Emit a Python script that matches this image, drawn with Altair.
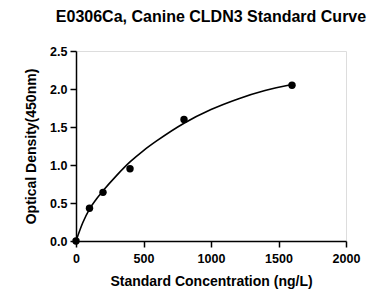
import altair as alt
import pandas as pd

# Measured standards
conc = [0, 100, 200, 400, 800, 1600]
od = [0.0, 0.43, 0.64, 0.95, 1.60, 2.05]

# Fitted curve
curve_x = [0, 50, 100, 150, 200, 300, 400, 500, 600, 800, 1000, 1200, 1400, 1600]
curve_y = [0.0, 0.24, 0.42, 0.55, 0.66, 0.86, 1.04, 1.19, 1.32, 1.55, 1.73, 1.87, 1.98, 2.06]

x_ticks = [0, 500, 1000, 1500, 2000]
y_ticks = [0.0, 0.5, 1.0, 1.5, 2.0, 2.5]

pts = pd.DataFrame({"x": conc, "y": od})
crv = pd.DataFrame({"x": curve_x, "y": curve_y})

FONT = "Liberation Sans"

xs = alt.Scale(domain=[0, 2000], nice=False, zero=True)
ys = alt.Scale(domain=[0, 2.5], nice=False, zero=True)

xax = alt.Axis(values=x_ticks, format="d", title="Standard Concentration (ng/L)", grid=False,
               labelFont=FONT, labelFontSize=12.5, labelFontWeight="bold", labelColor="black",
               titleFont=FONT, titleFontSize=14, titleFontWeight="bold", titleColor="black",
               domainColor="black", domainWidth=1.5, tickColor="black", tickWidth=1.5,
               tickSize=6, labelPadding=5, titlePadding=10, labelFlush=False, labelOverlap=False)
yax = alt.Axis(values=y_ticks, format=".1f", title="Optical Density(450nm)", grid=False,
               labelFont=FONT, labelFontSize=12.5, labelFontWeight="bold", labelColor="black",
               titleFont=FONT, titleFontSize=14, titleFontWeight="bold", titleColor="black",
               domainColor="black", domainWidth=1.5, tickColor="black", tickWidth=1.5,
               tickSize=6, labelPadding=3, titlePadding=11, labelFlush=False, labelOverlap=False)

line = alt.Chart(crv).mark_line(color="black", strokeWidth=1.6, interpolate="monotone").encode(
    x=alt.X("x:Q", scale=xs, axis=xax),
    y=alt.Y("y:Q", scale=ys, axis=yax),
)
dots = alt.Chart(pts).mark_circle(color="black", opacity=1, size=55).encode(
    x=alt.X("x:Q", scale=xs, axis=xax),
    y=alt.Y("y:Q", scale=ys, axis=yax),
)

chart = (line + dots).properties(
    width=270, height=190,
    title=alt.TitleParams("E0306Ca, Canine CLDN3 Standard Curve", font=FONT, fontSize=16,
                          fontWeight="bold", color="black", anchor="middle", offset=20),
    autosize=alt.AutoSizeParams(type="none"),
    padding={"left": 68, "top": 43, "right": 28, "bottom": 50},
).configure_view(stroke=None).configure(background="white")

chart.save("out.html", embed_options={"renderer": "svg", "actions": False})
